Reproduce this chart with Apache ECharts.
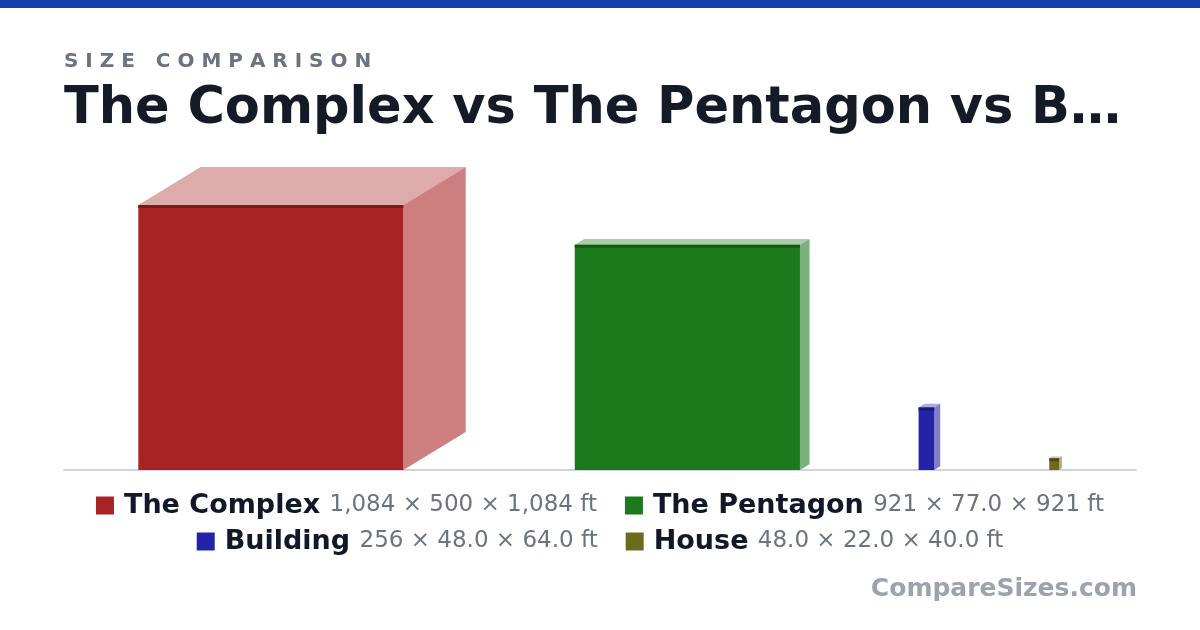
<!DOCTYPE html>
<html>
<head>
<meta charset="utf-8">
<script src="https://cdn.jsdelivr.net/npm/echarts@6/dist/echarts.min.js"></script>
<style>
  html, body { margin: 0; padding: 0; background: #ffffff; }
  #chart { width: 1200px; height: 630px; }
</style>
</head>
<body>
<div id="chart"></div>
<script>
// ---- Data ----
const names = ['The Complex', 'The Pentagon', 'Building', 'House'];
const heightsFt = [1084, 921, 256, 48];   // vertical (front face height), 1st dimension
const depthsFt = [500, 77, 48, 22];       // depth (oblique), 2nd dimension
const widthsFt = [1084, 921, 64, 40];     // front face width, 3rd dimension
const legendRow1 = ['The Complex', 'The Pentagon'];
const legendRow2 = ['Building', 'House'];
const palette = ['#A82323', '#1C791C', '#2323A8', '#6B6B1C'];

// ---- Layout constants ----
const FONT = 'DejaVu Sans';
const PX_PER_FT = 0.2445;
const GRID = { left: 64, right: 64, top: 150, bottom: 160 };
const PLOT_W = 1200 - GRID.left - GRID.right;
const PLOT_H = 630 - GRID.top - GRID.bottom;
const PAD_FT = 304, GAP_FT = 446;
const DEPTH_X = 0.51, DEPTH_Y = 0.31;

function fmt(v) {
  return v >= 100 ? Math.round(v).toLocaleString('en-US') : v.toFixed(1);
}
function hexToRgb(h) {
  return [parseInt(h.slice(1, 3), 16), parseInt(h.slice(3, 5), 16), parseInt(h.slice(5, 7), 16)];
}
function tint(h, a) {
  const c = hexToRgb(h).map(v => Math.round(255 - a * (255 - v)));
  return 'rgb(' + c.join(',') + ')';
}
function shade(h, k) {
  const c = hexToRgb(h).map(v => Math.round(v * k));
  return 'rgb(' + c.join(',') + ')';
}

// x start positions: boxes laid out left to right with a fixed gap
const starts = [];
let cursor = PAD_FT;
for (let i = 0; i < names.length; i++) {
  starts.push(cursor);
  cursor += widthsFt[i] + depthsFt[i] * DEPTH_X + GAP_FT;
}

function renderBox(params, api) {
  const x0 = api.value(0), h = api.value(1), w = api.value(2), d = api.value(3);
  const bl = api.coord([x0, 0]);
  const tr = api.coord([x0 + w, h]);
  const dpx = api.size([d, 0])[0];
  const dx = dpx * DEPTH_X, dy = dpx * DEPTH_Y;
  const left = bl[0], right = tr[0], top = tr[1], bottom = bl[1];
  const base = palette[params.seriesIndex];
  return {
    type: 'group',
    children: [
      { type: 'polygon', shape: { points: [[left, top], [left + dx, top - dy], [right + dx, top - dy], [right, top]] },
        style: { fill: tint(base, 0.38) } },
      { type: 'polygon', shape: { points: [[right, top], [right + dx, top - dy], [right + dx, bottom - dy], [right, bottom]] },
        style: { fill: tint(base, 0.58) } },
      { type: 'rect', shape: { x: left, y: top, width: right - left, height: bottom - top },
        style: { fill: base } },
      { type: 'rect', shape: { x: left, y: top, width: right - left, height: Math.min(3, bottom - top) },
        style: { fill: shade(base, 0.7) } }
    ]
  };
}

const dimsByName = {};
names.forEach((n, i) => {
  dimsByName[n] = fmt(heightsFt[i]) + ' × ' + fmt(depthsFt[i]) + ' × ' + fmt(widthsFt[i]) + ' ft';
});

const legendBase = {
  left: 'center',
  orient: 'horizontal',
  itemWidth: 18,
  itemHeight: 18,
  itemGap: 28,
  icon: 'rect',
  selectedMode: false,
  formatter: function (name) { return '{n|' + name + ' }{d|' + dimsByName[name] + '}'; },
  textStyle: {
    fontFamily: FONT,
    rich: {
      n: { fontFamily: FONT, fontWeight: 'bold', fontSize: 27, color: '#111827', padding: [0, 0, 0, 5] },
      d: { fontFamily: FONT, fontSize: 23, color: '#6B7280' }
    }
  }
};

const chart = echarts.init(document.getElementById('chart'), null, { renderer: 'canvas' });
chart.setOption({
  backgroundColor: '#ffffff',
  animation: false,
  color: palette,
  title: [
    { text: 'S I Z E   C O M P A R I S O N', left: 59, top: 47,
      textStyle: { fontFamily: FONT, fontWeight: 'bold', fontSize: 20, color: '#6B7280' } },
    { text: 'The Complex vs The Pentagon vs B…', left: 59, top: 79,
      textStyle: { fontFamily: FONT, fontWeight: 'bold', fontSize: 51, color: '#141B26' } }
  ],
  graphic: [
    { type: 'rect', left: 0, top: 0, shape: { width: 1200, height: 8 }, style: { fill: '#1740AA' } },
    { type: 'text', right: 63, top: 577,
      style: { text: 'CompareSizes.com', font: 'bold 25px "DejaVu Sans"', fill: '#9CA3AF' } }
  ],
  legend: [
    Object.assign({}, legendBase, { data: legendRow1, top: 487 }),
    Object.assign({}, legendBase, { data: legendRow2, top: 523 })
  ],
  grid: { left: GRID.left, right: GRID.right, top: GRID.top, bottom: GRID.bottom, containLabel: false },
  xAxis: {
    type: 'value', min: 0, max: PLOT_W / PX_PER_FT,
    splitLine: { show: false }, axisTick: { show: false }, axisLabel: { show: false },
    axisLine: { show: true, lineStyle: { color: '#D1D5DB', width: 2 } }
  },
  yAxis: {
    type: 'value', min: 0, max: PLOT_H / PX_PER_FT,
    show: false, splitLine: { show: false }
  },
  series: names.map((n, i) => ({
    type: 'custom',
    name: n,
    renderItem: renderBox,
    clip: false,
    z: 3,
    data: [[starts[i], heightsFt[i], widthsFt[i], depthsFt[i]]]
  }))
});
</script>
</body>
</html>
